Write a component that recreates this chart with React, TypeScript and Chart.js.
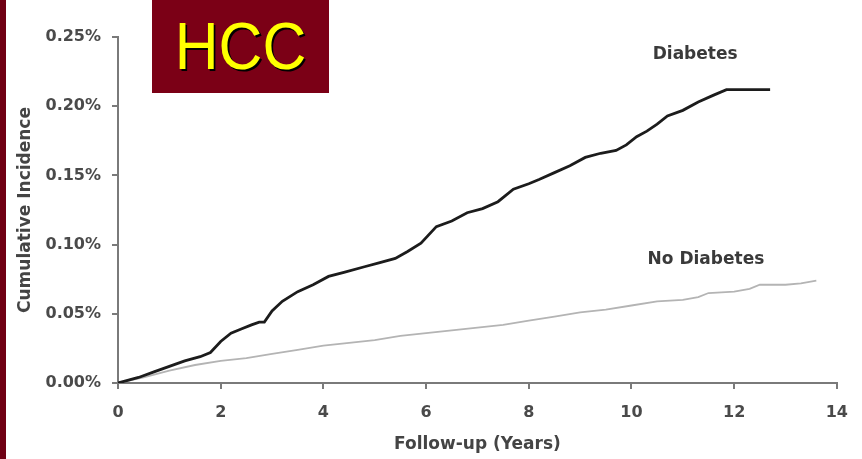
import React, { useEffect, useRef } from "react";
import { Chart, registerables } from "chart.js";

Chart.register(...registerables);

const diabetesYears = [0, 0.4, 0.7, 1.0, 1.3, 1.6, 1.8, 2.0, 2.2, 2.4, 2.6, 2.75, 2.85, 3.0, 3.2, 3.5, 3.8, 4.1, 4.4, 4.8, 5.1, 5.4, 5.64, 5.9, 6.2, 6.5, 6.8, 7.1, 7.4, 7.7, 8.0, 8.2, 8.5, 8.8, 9.1, 9.4, 9.7, 9.9, 10.1, 10.3, 10.5, 10.7, 11.0, 11.3, 11.6, 11.85, 12.7];
const diabetesValues = [0, 0.004, 0.008, 0.012, 0.016, 0.019, 0.022, 0.030, 0.036, 0.039, 0.042, 0.044, 0.044, 0.052, 0.059, 0.066, 0.071, 0.077, 0.080, 0.084, 0.087, 0.090, 0.095, 0.101, 0.113, 0.117, 0.123, 0.126, 0.131, 0.140, 0.144, 0.147, 0.152, 0.157, 0.163, 0.166, 0.168, 0.172, 0.178, 0.182, 0.187, 0.193, 0.197, 0.203, 0.208, 0.212, 0.212];

const noDiabetesYears = [0, 0.5, 1.0, 1.5, 2.0, 2.5, 3.0, 3.5, 4.0, 4.5, 5.0, 5.5, 6.0, 6.5, 7.0, 7.5, 8.0, 8.5, 9.0, 9.5, 10.0, 10.5, 11.0, 11.3, 11.5, 12.0, 12.3, 12.5, 13.0, 13.3, 13.6];
const noDiabetesValues = [0, 0.004, 0.009, 0.013, 0.016, 0.018, 0.021, 0.024, 0.027, 0.029, 0.031, 0.034, 0.036, 0.038, 0.040, 0.042, 0.045, 0.048, 0.051, 0.053, 0.056, 0.059, 0.060, 0.062, 0.065, 0.066, 0.068, 0.071, 0.071, 0.072, 0.074];

const xTickValues = [0, 2, 4, 6, 8, 10, 12, 14];
const yTickValues = [0, 0.05, 0.1, 0.15, 0.2, 0.25];

const seriesLabels = ["Diabetes", "No Diabetes"];
// label anchor positions in data units (years, %)
const labelYears = [11.24, 11.45];
const labelValues = [0.237, 0.0895];

const titleText = "HCC";
const xTitle = "Follow-up (Years)";
const yTitle = "Cumulative Incidence";

const FONT = "'DejaVu Sans', sans-serif";

export default function App() {
  const ref = useRef<HTMLCanvasElement | null>(null);

  useEffect(() => {
    if (!ref.current) return;
    const labelPlugin = {
      id: "curveLabels",
      afterDatasetsDraw(chart: any) {
        const ctx = chart.ctx;
        const xs = chart.scales.x;
        const ys = chart.scales.y;
        ctx.save();
        ctx.font = `bold 17px ${FONT}`;
        ctx.fillStyle = "#3a3a3a";
        ctx.textAlign = "center";
        ctx.textBaseline = "middle";
        seriesLabels.forEach((t, i) => {
          ctx.fillText(t, xs.getPixelForValue(labelYears[i]), ys.getPixelForValue(labelValues[i]));
        });
        ctx.restore();
      },
    };

    const chart = new Chart(ref.current, {
      type: "line",
      data: {
        datasets: [
          {
            label: seriesLabels[0],
            data: diabetesYears.map((x, i) => ({ x, y: diabetesValues[i] })),
            borderColor: "#1c1c1c",
            borderWidth: 2.8,
            pointRadius: 0,
            tension: 0,
          },
          {
            label: seriesLabels[1],
            data: noDiabetesYears.map((x, i) => ({ x, y: noDiabetesValues[i] })),
            borderColor: "#b4b4b4",
            borderWidth: 1.8,
            pointRadius: 0,
            tension: 0,
          },
        ],
      },
      options: {
        animation: false,
        responsive: true,
        maintainAspectRatio: false,
        layout: { padding: { top: 37, right: 19, left: 0, bottom: 0 } },
        plugins: { legend: { display: false }, tooltip: { enabled: false } },
        scales: {
          x: {
            type: "linear",
            min: 0,
            max: 14,
            afterBuildTicks: (s: any) => {
              s.ticks = xTickValues.map((v) => ({ value: v }));
            },
            afterFit: (s: any) => {
              s.height = 76;
            },
            ticks: {
              color: "#4a4a4a",
              font: { family: FONT, size: 16, weight: "bold" },
              padding: 14,
              maxRotation: 0,
              callback: (v: any) => String(v),
            },
            grid: { drawOnChartArea: false, drawTicks: true, tickLength: 6, color: "#7a7a7a", lineWidth: 2 },
            border: { display: true, color: "#7a7a7a", width: 2 },
            title: {
              display: true,
              text: xTitle,
              color: "#444",
              font: { family: FONT, size: 17, weight: "bold" },
              padding: { top: 0, bottom: 4 },
            },
          },
          y: {
            type: "linear",
            min: 0,
            max: 0.25,
            afterBuildTicks: (s: any) => {
              s.ticks = yTickValues.map((v) => ({ value: v }));
            },
            afterFit: (s: any) => {
              s.width = 118;
            },
            ticks: {
              color: "#4a4a4a",
              font: { family: FONT, size: 16, weight: "bold" },
              padding: 11,
              callback: (v: any) => Number(v).toFixed(2) + "%",
            },
            grid: { drawOnChartArea: false, drawTicks: true, tickLength: 6, color: "#7a7a7a", lineWidth: 2 },
            border: { display: true, color: "#7a7a7a", width: 2 },
            title: {
              display: true,
              text: yTitle,
              color: "#444",
              font: { family: FONT, size: 17, weight: "bold" },
              padding: { top: 15, bottom: 0 },
            },
          },
        },
      },
      plugins: [labelPlugin],
    });
    return () => chart.destroy();
  }, []);

  return (
    <div style={{ position: "fixed", left: 0, top: 0, width: 862, height: 459, background: "#fff" }}>
      <canvas ref={ref} />
      <div style={{ position: "absolute", left: 0, top: 0, width: 6, height: 459, background: "#700014" }} />
      <div
        style={{
          position: "absolute",
          left: 152,
          top: 0,
          width: 177,
          height: 93,
          background: "#7b0016",
          display: "flex",
          alignItems: "center",
          justifyContent: "center",
          color: "#ffff00",
          fontFamily: "'Liberation Sans', Arial, sans-serif",
          fontSize: 66,
          lineHeight: "93px",
          textShadow: "2px 2px 0 #000",
        }}
      >
        <span style={{ display: "inline-block", transform: "scaleX(0.92)" }}>{titleText}</span>
      </div>
    </div>
  );
}
